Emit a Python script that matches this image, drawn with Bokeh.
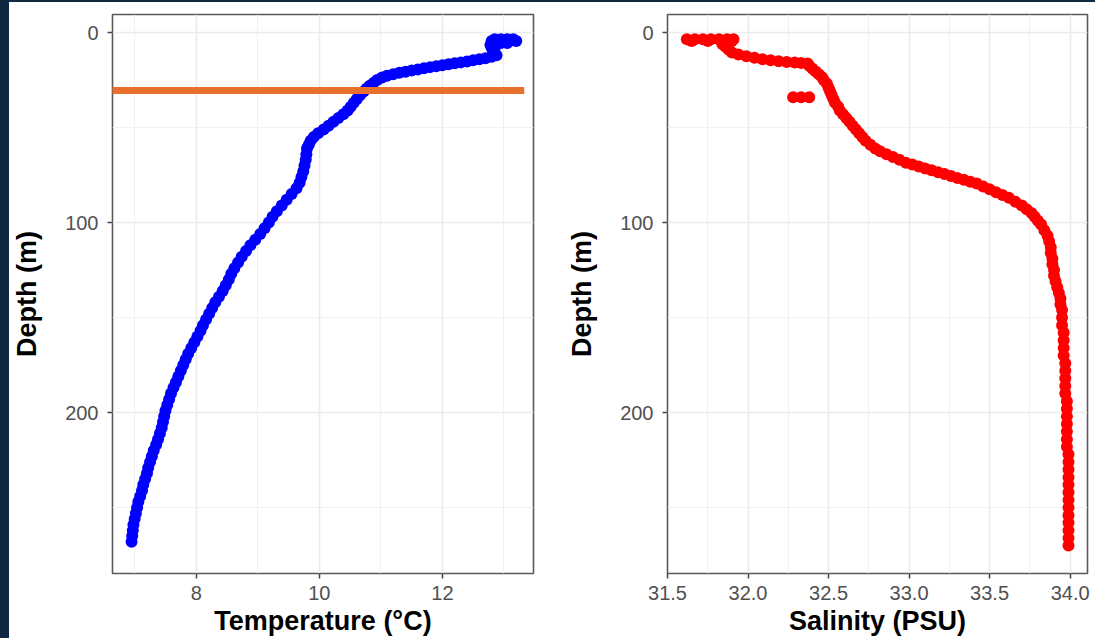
from bokeh.plotting import figure
from bokeh.layouts import row
from bokeh.models import Range1d, FixedTicker, PrintfTickFormatter
from bokeh.embed import file_html
from bokeh.resources import INLINE

# ---- Temperature profile (depth m, temperature degC) ----
temp_depth = [3.5, 3.5, 3.5, 3.5, 4.5, 4.5, 4.5, 4.5, 4.5, 5.5, 5.5, 5.5, 6.5, 6.5,
              8, 9.5, 11, 12, 12.8,
              13.5, 14, 14.6, 15.2, 15.7, 16.2, 16.7, 17.2, 17.7, 18.2, 18.8, 19.4, 20, 20.6,
              21.2, 21.9, 22.7, 23.6, 25, 26.5, 28, 29.5, 31, 33, 35, 37, 39, 41, 43, 45,
              47, 49, 51, 53, 55, 57, 59, 61, 64, 67, 70, 73, 76, 79, 82, 85, 88, 91, 94,
              97, 100, 103, 106, 109, 112, 115, 118, 121, 124, 127, 130, 133, 136, 139,
              142, 145, 148, 151, 154, 157, 160, 163, 166, 169, 172, 175, 178, 181, 184,
              187, 190, 193, 196, 199, 202, 205, 208, 211, 214, 217, 220, 223, 226, 229,
              232, 235, 238, 241, 244, 247, 250, 253, 256, 259, 262, 265, 268]
temp_value = [12.85, 12.95, 13.05, 13.15, 12.8, 12.9, 13.0, 13.1, 13.2, 12.85, 12.95, 13.05, 12.78, 12.88,
              12.8, 12.82, 12.85, 12.88, 12.8,
              12.7, 12.6, 12.5, 12.4, 12.3, 12.2, 12.1, 12.0, 11.9, 11.8, 11.7, 11.6, 11.5, 11.4,
              11.3, 11.2, 11.1, 11.02, 10.94, 10.88, 10.82, 10.77, 10.72, 10.66, 10.61, 10.56, 10.51, 10.46, 10.39, 10.31,
              10.23, 10.15, 10.07, 9.98, 9.91, 9.86, 9.83, 9.8, 9.79, 9.78, 9.76, 9.74, 9.71, 9.68, 9.63, 9.55, 9.47, 9.39, 9.31,
              9.24, 9.18, 9.11, 9.04, 8.96, 8.88, 8.81, 8.74, 8.68, 8.62, 8.57, 8.53, 8.48, 8.43, 8.37,
              8.31, 8.26, 8.21, 8.16, 8.11, 8.07, 8.02, 7.97, 7.92, 7.87, 7.83, 7.79, 7.75, 7.71, 7.67,
              7.63, 7.59, 7.56, 7.53, 7.5, 7.48, 7.46, 7.44, 7.41, 7.38, 7.35, 7.31, 7.28, 7.25, 7.22,
              7.2, 7.17, 7.14, 7.12, 7.09, 7.06, 7.04, 7.02, 7.0, 6.98, 6.97, 6.96, 6.95]

# ---- Salinity profile (depth m, salinity PSU) ----
sal_depth = [3.5, 3.5, 3.5, 3.5, 3.5, 3.5, 3.5, 4.5, 4.5, 4.5, 4.5,
             6, 7.5, 9, 10.5,
             11.5, 12.5, 13.3, 14, 14.6, 15.1, 15.5, 15.8, 16, 16.3,
             17.5, 19, 20.5, 22, 23.5, 25, 27, 29, 31, 33, 35, 37, 39, 41, 43, 45, 47, 49,
             51, 53, 55, 57, 59, 61, 62.5, 64, 65.5, 67, 68.5, 69.5, 70.5, 71.5, 72.5, 73.5,
             74.5, 75.5, 76.5, 77.5, 78.5, 79.5, 81, 82.5, 84, 85.5, 87, 89, 91, 93, 95, 97,
             99, 101, 104, 107, 110, 113, 116, 119, 122, 125, 128, 131, 134, 137, 140, 143,
             146, 150, 154, 158, 162, 166, 170, 174, 178, 182, 186, 190, 194, 198, 202, 206,
             210, 214, 218, 222, 226, 230, 234, 238, 242, 246, 250, 254, 258, 262, 266, 270,
             34, 34, 34]
sal_value = [31.62, 31.67, 31.72, 31.77, 31.82, 31.87, 31.91, 31.65, 31.75, 31.85, 31.9,
             31.84, 31.86, 31.88, 31.9,
             31.94, 31.99, 32.04, 32.09, 32.14, 32.19, 32.24, 32.29, 32.33, 32.37,
             32.38, 32.4, 32.42, 32.44, 32.46, 32.47, 32.49, 32.5, 32.51, 32.52, 32.53, 32.54, 32.56, 32.57, 32.59, 32.61, 32.63, 32.65,
             32.67, 32.69, 32.71, 32.73, 32.76, 32.79, 32.82, 32.86, 32.9, 32.94, 32.98, 33.02, 33.06, 33.1, 33.14, 33.18,
             33.22, 33.26, 33.3, 33.34, 33.38, 33.42, 33.46, 33.5, 33.54, 33.58, 33.62, 33.66, 33.7, 33.73, 33.76, 33.78,
             33.8, 33.82, 33.84, 33.86, 33.87, 33.88, 33.88, 33.89, 33.89, 33.9, 33.9, 33.91, 33.92, 33.93, 33.94, 33.94,
             33.95, 33.95, 33.95, 33.96, 33.96, 33.96, 33.96, 33.97, 33.97, 33.97, 33.97, 33.97, 33.98, 33.98, 33.98, 33.98,
             33.98, 33.98, 33.98, 33.99, 33.99, 33.99, 33.99, 33.99, 33.99, 33.99, 33.99, 33.99, 33.99, 33.99, 33.99, 33.99,
             32.28, 32.33, 32.38]

# ---- Mixed layer marker (orange horizontal line) ----
mld_depth = 30.5
mld_temp_span = [6.5, 13.33]

# ---- Axes ----
depth_ticks = [0, 100, 200]
depth_minor = [50, 150, 250]
temp_ticks = [8, 10, 12]
temp_minor = [7, 9, 11, 13]
sal_ticks = [31.5, 32.0, 32.5, 33.0, 33.5, 34.0]
sal_minor = [31.75, 32.25, 32.75, 33.25, 33.75]

FONT = "Liberation Sans"


def style(p, xlabel, xticks, xminor, yticks, yminor):
    p.outline_line_color = "#5a5a5a"
    p.outline_line_width = 1.6
    p.background_fill_color = "white"
    p.border_fill_color = "white"
    p.xaxis.ticker = FixedTicker(ticks=xticks, minor_ticks=xminor)
    p.yaxis.ticker = FixedTicker(ticks=yticks, minor_ticks=yminor)
    for ax in (p.xaxis[0], p.yaxis[0]):
        ax.axis_line_color = None
        ax.major_tick_in = 0
        ax.major_tick_out = 5
        ax.major_tick_line_color = "#444444"
        ax.major_tick_line_width = 1.5
        ax.minor_tick_in = 0
        ax.minor_tick_out = 0
        ax.major_label_text_font = FONT
        ax.major_label_text_font_size = "20px"
        ax.major_label_text_color = "#505050"
        ax.axis_label_text_font = FONT
        ax.axis_label_text_font_size = "27px"
        ax.axis_label_text_font_style = "bold"
        ax.axis_label_text_color = "black"
    p.xaxis.axis_label = xlabel
    p.yaxis.axis_label = "Depth (m)"
    p.xaxis.major_label_standoff = 7
    p.xaxis.axis_label_standoff = 3
    p.yaxis.major_label_standoff = 9
    p.yaxis.axis_label_standoff = 20
    for g in (p.xgrid[0], p.ygrid[0]):
        g.grid_line_color = "#ebebeb"
        g.grid_line_width = 1.6
        g.minor_grid_line_color = "#f1f1f1"
        g.minor_grid_line_width = 1.0


p1 = figure(width=551, height=636, output_backend="svg", toolbar_location=None,
            x_range=Range1d(6.64, 13.48), y_range=Range1d(284.7, -9.5),
            min_border_left=103, min_border_right=27, min_border_top=12, min_border_bottom=10)
style(p1, "Temperature (°C)", temp_ticks, temp_minor, depth_ticks, depth_minor)
p1.scatter(x=temp_value, y=temp_depth, size=12, color="#0000ff", line_color=None)
p1.line(x=mld_temp_span, y=[mld_depth, mld_depth], line_color="#e8702f", line_width=7, line_cap="butt")

p2 = figure(width=535, height=636, output_backend="svg", toolbar_location=None,
            x_range=Range1d(31.5, 34.108), y_range=Range1d(284.7, -9.5),
            min_border_left=107, min_border_right=8, min_border_top=12, min_border_bottom=10)
style(p2, "Salinity (PSU)", sal_ticks, sal_minor, depth_ticks, depth_minor)
p2.xaxis.formatter = PrintfTickFormatter(format="%.1f")
p2.scatter(x=sal_value, y=sal_depth, size=12, color="#ff0000", line_color=None)

layout = row(p1, p2)
layout.styles = {"border-left": "9px solid #0e2841", "border-top": "2px solid #0e2841"}
open("out.html", "w").write(file_html(layout, INLINE))
